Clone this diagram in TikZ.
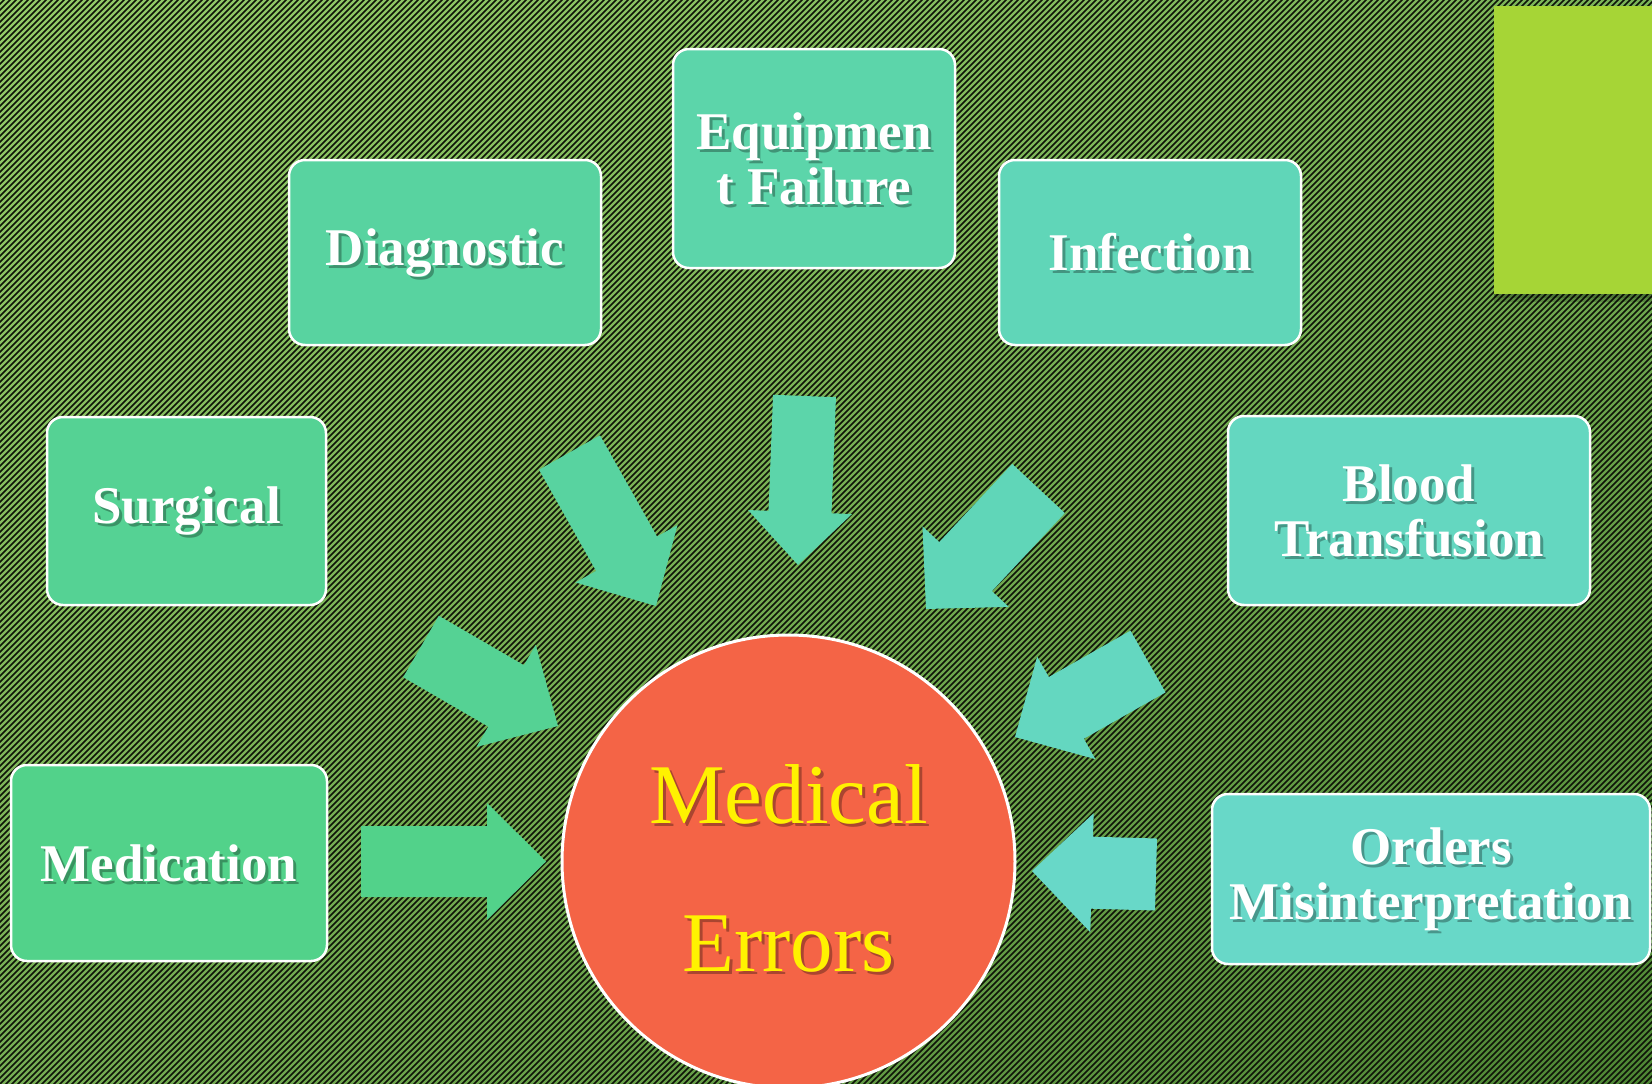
\documentclass[tikz,border=0pt]{standalone}
\usepackage{fontspec}
\setmainfont{Liberation Serif}
\usetikzlibrary{calc,shadings}

% background
\definecolor{bgUL}{RGB}{148,204,104}
\definecolor{bgUR}{RGB}{122,180,88}
\definecolor{bgLL}{RGB}{118,174,84}
\definecolor{bgLR}{RGB}{78,134,52}
\definecolor{stripe}{RGB}{14,20,8}
\definecolor{lime}{RGB}{166,213,54}
% causes, green to teal
\definecolor{medC}{RGB}{82,210,138}
\definecolor{surC}{RGB}{85,210,148}
\definecolor{diaC}{RGB}{88,211,160}
\definecolor{equC}{RGB}{92,213,170}
\definecolor{infC}{RGB}{96,214,184}
\definecolor{bloC}{RGB}{100,215,192}
\definecolor{ordC}{RGB}{104,216,200}
\definecolor{errC}{RGB}{244,100,70}

\tikzset{
  causebox/.style={draw=white, line width=2.5pt, rounded corners=16pt, inner sep=0pt},
  causefont/.style={align=center, inner sep=0pt, font=\fontsize{53}{55}\selectfont\bfseries},
  causetext/.style={causefont, text=white},
  causeshadow/.style={causefont, text=black, opacity=0.3},
  errfont/.style={align=center, inner sep=0pt, font=\fontsize{85}{148}\selectfont},
  errtext/.style={errfont, text=yellow},
  errshadow/.style={errfont, text=black, opacity=0.3},
}

% #1 name, #2 centre, #3 width, #4 height, #5 fill, #6 text
\newcommand{\causenode}[6]{%
  \node[causebox, fill=#5, minimum width=#3pt, minimum height=#4pt] (#1) at #2 {};
  \node[causeshadow] (#1-sh) at ($(#1)+(3,3)$) {#6};
  \node[causetext] (#1-txt) at (#1) {#6};
}

% block arrow: #1 colour, #2 tail, #3 tip, #4 half shaft width, #5 half head width, #6 head length
\newcommand{\blockarrow}[6]{%
  \coordinate (#2-j) at ($(#3)!#6pt!(#2)$);
  \fill[#1] ($(#2)!#4pt!90:(#3)$) -- ($(#2-j)!#4pt!90:(#3)$) -- ($(#2-j)!#5pt!90:(#3)$)
    -- (#3) -- ($(#2-j)!#5pt!-90:(#3)$) -- ($(#2-j)!#4pt!-90:(#3)$) -- ($(#2)!#4pt!-90:(#3)$) -- cycle;
}

\begin{document}
\begin{tikzpicture}[x=1pt, y=-1pt]
\useasboundingbox (0,0) rectangle (1652,1084);

% striped backdrop
\shade[upper left=bgUL, upper right=bgUR, lower left=bgLL, lower right=bgLR] (0,0) rectangle (1652,1084);
\begin{scope}
  \clip (0,0) rectangle (1652,1084);
  \draw[stripe, line width=1.5pt] \foreach \i in {-1098,-1092,...,1656} {(\i,1090) -- ++(1096,-1096)};
\end{scope}

% corner tab
\fill[black, opacity=0.30] (1494,294) rectangle (1652,298);
\fill[black, opacity=0.18] (1494,298) rectangle (1652,302);
\fill[lime] (1494,6) rectangle (1652,294);

% causes
\causenode{med}{(169,863)}{316}{196}{medC}{Medication}
\causenode{sur}{(186.5,511)}{279}{188}{surC}{Surgical}
\causenode{dia}{(445,252.5)}{312}{185}{diaC}{Diagnostic}
\causenode{equ}{(814,158.5)}{282}{219}{equC}{Equipmen\\t Failure}
\causenode{inf}{(1150,252.5)}{302}{185}{infC}{Infection}
\causenode{blo}{(1409,510.5)}{362}{189}{bloC}{Blood\\Transfusion}
\causenode{ord}{(1431,879)}{438}{170}{ordC}{Orders\\Misinterpretation}

% arrows pointing to the centre
\coordinate (medT) at (361,861.5);   \coordinate (medP) at (546,861.5);
\coordinate (surT) at (421,646.5);   \coordinate (surP) at (558,726);
\coordinate (diaT) at (569.5,452.5); \coordinate (diaP) at (656,606);
\coordinate (equT) at (804.5,396);   \coordinate (equP) at (798,565);
\coordinate (infT) at (1038.5,488.5);\coordinate (infP) at (926,609);
\coordinate (bloT) at (1148,661.5);  \coordinate (bloP) at (1015,737);
\coordinate (ordT) at (1156,874.5);  \coordinate (ordP) at (1032,871);
\blockarrow{medC}{medT}{medP}{35.5}{58.5}{59}
\blockarrow{surC}{surT}{surP}{35.5}{59}{60}
\blockarrow{diaC}{diaT}{diaP}{35}{58.5}{60}
\blockarrow{equC}{equT}{equP}{31.5}{52}{53}
\blockarrow{infC}{infT}{infP}{36}{59}{58}
\blockarrow{bloC}{bloT}{bloP}{35.5}{59}{59}
\blockarrow{ordC}{ordT}{ordP}{36}{59.5}{60}

% centre
\node[circle, fill=errC, draw=white, line width=3pt, minimum size=453pt, inner sep=0pt] (err) at (788.5,861.5) {};
\node[errshadow] (err-sh) at ($(err)+(3,9.5)$) {Medical\\Errors};
\node[errtext] (err-txt) at ($(err)+(0,6.5)$) {Medical\\Errors};
\end{tikzpicture}
\end{document}
